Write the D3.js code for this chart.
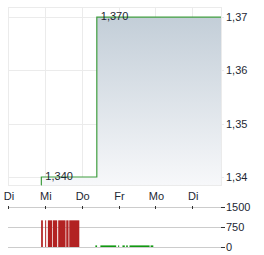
<!DOCTYPE html>
<html>
<head>
<meta charset="utf-8">
<script src="https://cdn.jsdelivr.net/npm/d3@7"></script>
<style>
  body { margin: 0; background: #fff; }
  svg text { font-family: "Liberation Sans", Arial, sans-serif; font-size: 11px; fill: #1d2733; }
</style>
</head>
<body>
<div id="chart"></div>
<script>
// trading-day axis: 0 = first Di, 1 = Mi, ... (weekend skipped)
const dayLabels = ["Di", "Mi", "Do", "Fr", "Mo", "Di"];
const dayTicks = [0, 1, 2, 3, 4, 5];

// price steps [day, price]
const priceDays = [0.9, 0.905, 2.41, 5.78];
const priceValues = [1.3385, 1.340, 1.370, 1.370];
const priceTicks = [1.34, 1.35, 1.36, 1.37];
const priceMarks = [[0.905, 1.340, "1,340"], [2.41, 1.370, "1,370"]];

// volume bars [start day, end day]
const volStart = [0.899, 1.008, 1.082, 1.218, 1.362, 1.580, 1.662,
                  2.371, 2.507, 2.989, 3.106, 3.207, 3.297, 3.869];
const volEnd   = [0.946, 1.035, 1.199, 1.335, 1.561, 1.643, 1.935,
                  2.417, 2.935, 3.016, 3.169, 3.251, 3.842, 3.943];
const volValues = [1000, 1000, 1000, 1000, 1000, 1000, 1000,
                   60, 60, 60, 60, 60, 60, 60];
const volUp = [false, false, false, false, false, false, false,
               true, true, true, true, true, true, true];
const volTicks = [0, 750, 1500];

const width = 264, height = 255;
const left = 8, right = 221;

const svg = d3.select("#chart").append("svg")
  .attr("width", width).attr("height", height);

const x = d3.scaleLinear([0, 5.78], [left, right]);
const y = d3.scaleLinear([1.3385, 1.3719], [185, 7]);
const yv = d3.scaleLinear([0, 1500], [247, 207]);

// gradient for the area
const grad = svg.append("defs").append("linearGradient")
  .attr("id", "fillGrad").attr("x1", 0).attr("y1", 0).attr("x2", 0).attr("y2", 1);
grad.append("stop").attr("offset", "0%").attr("stop-color", "#c3ced8");
grad.append("stop").attr("offset", "100%").attr("stop-color", "#f7f8fa");

// main plot frame + grid
const grid = svg.append("g");
grid.selectAll("line.v")
  .data(dayTicks.slice(1))
  .join("line")
  .attr("x1", d => Math.round(x(d)) + 0.5).attr("x2", d => Math.round(x(d)) + 0.5)
  .attr("y1", 7).attr("y2", 185)
  .attr("stroke", "#ebebeb");
grid.selectAll("line.h")
  .data(priceTicks)
  .join("line")
  .attr("x1", left).attr("x2", right + 3)
  .attr("y1", d => Math.round(y(d)) + 0.5).attr("y2", d => Math.round(y(d)) + 0.5)
  .attr("stroke", "#ebebeb");
grid.append("rect")
  .attr("x", left + 0.5).attr("y", 7.5)
  .attr("width", right - left).attr("height", 178)
  .attr("fill", "none").attr("stroke", "#ebebeb");

const pts = priceDays.map((d, i) => [d, priceValues[i]]);

// area
svg.append("path")
  .datum(pts)
  .attr("fill", "url(#fillGrad)")
  .attr("d", d3.area().curve(d3.curveStepAfter)
    .x(d => x(d[0])).y0(185).y1(d => y(d[1])));

// line
svg.append("path")
  .datum(pts)
  .attr("fill", "none")
  .attr("stroke", "#3f9d3f")
  .attr("stroke-width", 1.2)
  .attr("d", d3.line().curve(d3.curveStepAfter)
    .x(d => x(d[0])).y(d => y(d[1])));

// price marks
svg.selectAll("text.mark")
  .data(priceMarks)
  .join("text")
  .attr("x", d => x(d[0]) + 4)
  .attr("y", d => y(d[1]))
  .attr("dy", "0.3em")
  .text(d => d[2]);

// right price axis
svg.selectAll("text.py")
  .data(priceTicks)
  .join("text")
  .attr("x", 226)
  .attr("y", d => y(d[0] === undefined ? d : d))
  .attr("dy", "0.35em")
  .text(d => d3.format(".2f")(d).replace(".", ","));

// day labels
svg.selectAll("text.day")
  .data(dayTicks)
  .join("text")
  .attr("x", d => x(d) + 1)
  .attr("y", 200)
  .attr("text-anchor", "middle")
  .text((d, i) => dayLabels[i]);

// volume grid
svg.selectAll("line.vg")
  .data(volTicks)
  .join("line")
  .attr("x1", left).attr("x2", right)
  .attr("y1", d => Math.round(yv(d)) + 0.5).attr("y2", d => Math.round(yv(d)) + 0.5)
  .attr("stroke", "#cccccc");
svg.selectAll("line.vt")
  .data(volTicks)
  .join("line")
  .attr("x1", right).attr("x2", right + 4)
  .attr("y1", d => Math.round(yv(d)) + 0.5).attr("y2", d => Math.round(yv(d)) + 0.5)
  .attr("stroke", "#333");
svg.selectAll("line.dt")
  .data(dayTicks)
  .join("line")
  .attr("x1", d => Math.round(x(d)) + 0.5).attr("x2", d => Math.round(x(d)) + 0.5)
  .attr("y1", Math.round(yv(1500)) - 1).attr("y2", Math.round(yv(1500)) + 2)
  .attr("stroke", "#333");
svg.selectAll("text.vy")
  .data(volTicks)
  .join("text")
  .attr("x", 226)
  .attr("y", d => yv(d))
  .attr("dy", "0.35em")
  .text(d => d);

// volume bars
svg.selectAll("rect.vol")
  .data(volValues)
  .join("rect")
  .attr("x", (d, i) => x(volStart[i]))
  .attr("width", (d, i) => x(volEnd[i]) - x(volStart[i]))
  .attr("y", d => yv(d))
  .attr("height", d => yv(0) - yv(d))
  .attr("fill", (d, i) => volUp[i] ? "#119911" : "#b22222");
</script>
</body>
</html>
